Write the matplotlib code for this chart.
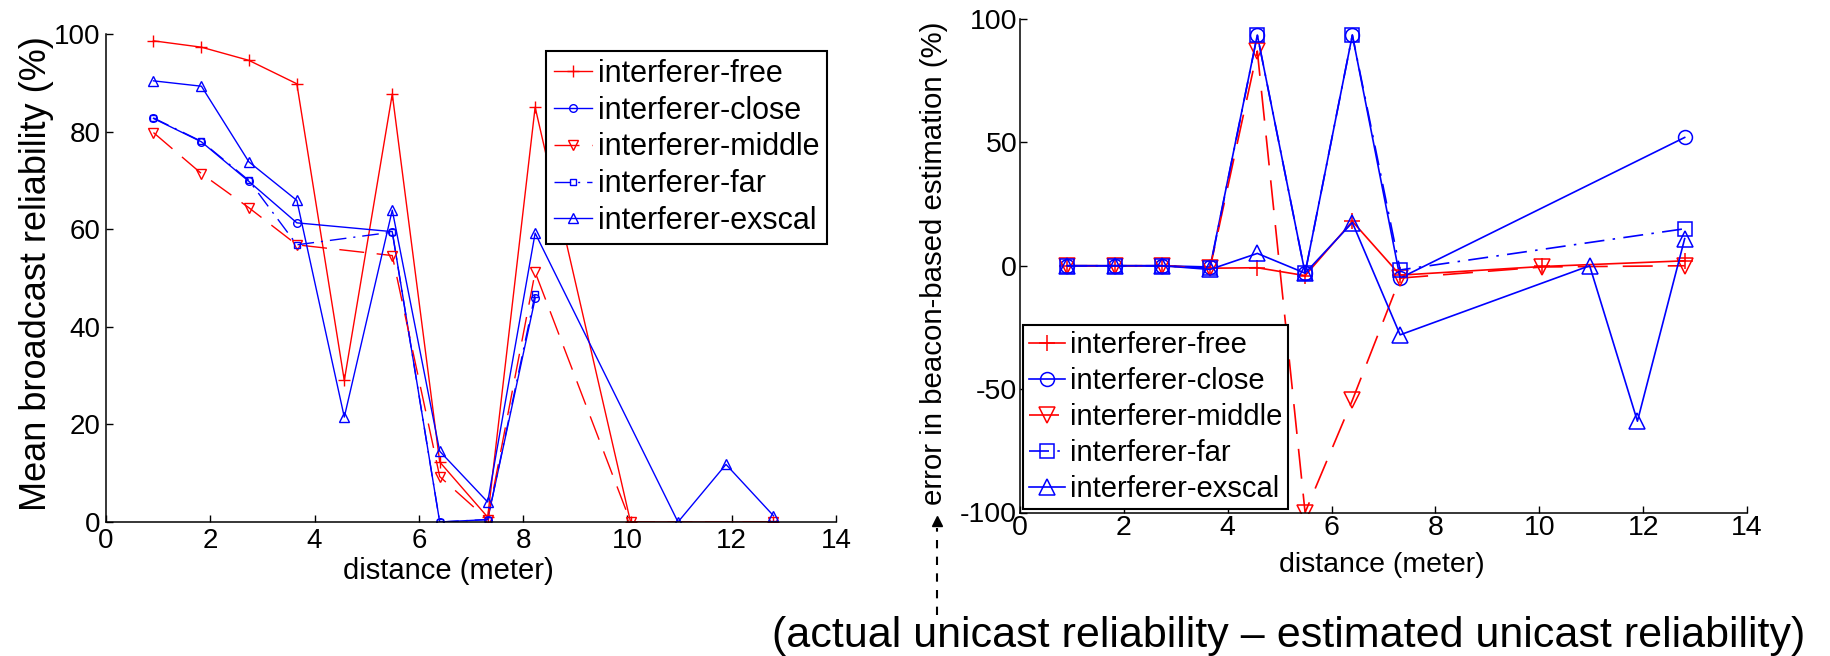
import matplotlib.pyplot as plt
from matplotlib.lines import Line2D

plt.rcParams["axes.unicode_minus"] = False
plt.rcParams["font.family"] = ["Liberation Sans", "DejaVu Sans"]

# left panel: mean broadcast reliability (%)
free_x = [0.91, 1.83, 2.74, 3.66, 4.57, 5.49, 6.40, 7.32, 8.23, 10.06, 12.80]
free_y = [98.6, 97.3, 94.6, 89.8, 29.0, 87.7, 12.3, 1.0, 85.0, 0.0, 0.0]
close_x = [0.91, 1.83, 2.74, 3.66, 5.49, 6.40, 7.32, 8.23]
close_y = [82.7, 77.9, 69.8, 61.3, 59.5, 0.0, 0.5, 45.8]
middle_x = [0.91, 1.83, 2.74, 3.66, 5.49, 6.40, 7.32, 8.23, 10.06, 12.80]
middle_y = [79.8, 71.4, 64.4, 56.8, 54.6, 9.3, 0.5, 51.2, 0.0, 0.0]
far_x = [0.91, 1.83, 2.74, 3.66, 5.49, 6.40, 7.32, 8.23]
far_y = [82.8, 78.0, 70.0, 56.8, 59.4, 0.0, 0.5, 46.7]
exscal_x = [0.91, 1.83, 2.74, 3.66, 4.57, 5.49, 6.40, 7.32, 8.23, 10.97, 11.89, 12.80]
exscal_y = [90.4, 89.3, 73.8, 65.9, 21.5, 63.9, 14.5, 4.1, 59.2, 0.0, 11.8, 1.3]

# right panel: error in beacon-based estimation (%)
err_free_x = [0.91, 1.83, 2.74, 3.66, 4.57, 5.49, 6.40, 7.32, 10.06, 12.80]
err_free_y = [0.0, 0.0, 0.0, -1.0, -0.8, -4.0, 18.0, -3.8, -0.3, 2.0]
err_close_x = [0.91, 1.83, 2.74, 3.66, 4.57, 5.49, 6.40, 7.32, 12.80]
err_close_y = [0.0, 0.0, 0.0, -0.5, 93.5, -3.0, 93.5, -5.0, 52.0]
err_middle_x = [0.91, 1.83, 2.74, 3.66, 4.57, 5.49, 6.40, 7.32, 10.06, 12.80]
err_middle_y = [0.0, 0.0, 0.0, -1.0, 87.0, -100.0, -54.5, -5.0, -0.5, 0.0]
err_far_x = [0.91, 1.83, 2.74, 3.66, 4.57, 5.49, 6.40, 7.32, 12.80]
err_far_y = [0.0, 0.0, 0.0, -1.0, 93.5, -3.0, 93.5, -1.7, 15.0]
err_exscal_x = [0.91, 1.83, 2.74, 3.66, 4.57, 5.49, 6.40, 7.32, 10.97, 11.89, 12.80]
err_exscal_y = [0.0, 0.0, 0.0, -1.5, 5.0, -3.0, 17.5, -28.0, 0.0, -63.0, 11.0]

labels = ["interferer-free", "interferer-close", "interferer-middle",
          "interferer-far", "interferer-exscal"]
colors = ["#ff0000", "#0000ff", "#ff0000", "#0000ff", "#0000ff"]
markers = ["+", "o", "v", "s", "^"]
styles = ["-", "-", (0, (18, 9)), (0, (12, 5, 1.5, 5)), "-"]

W, H = 1831, 656
fig = plt.figure(figsize=(W / 100, H / 100), dpi=100)
ax1 = fig.add_axes([106 / W, (H - 522) / H, 730 / W, 488 / H])
ax2 = fig.add_axes([1020 / W, (H - 512.5) / H, 727 / W, 493.5 / H])

left_data = [(free_x, free_y), (close_x, close_y), (middle_x, middle_y),
             (far_x, far_y), (exscal_x, exscal_y)]
right_data = [(err_free_x, err_free_y), (err_close_x, err_close_y),
              (err_middle_x, err_middle_y), (err_far_x, err_far_y),
              (err_exscal_x, err_exscal_y)]
left_ms = [8, 5.5, 6.5, 5, 6.5]
right_ms = [12, 10, 11, 9.5, 11]

for i in range(5):
    x, y = left_data[i]
    ax1.plot(x, y, color=colors[i], marker=markers[i], linestyle=styles[i],
             lw=1.0, ms=left_ms[i], mfc="none", mew=1.0, label=labels[i])
    x, y = right_data[i]
    ax2.plot(x, y, color=colors[i], marker=markers[i], linestyle=styles[i],
             lw=1.2, ms=right_ms[i], mfc="none", mew=1.1, label=labels[i])

for ax in (ax1, ax2):
    ax.spines["top"].set_visible(False)
    ax.spines["right"].set_visible(False)
    for s in ("left", "bottom"):
        ax.spines[s].set_linewidth(1.1)
    ax.tick_params(direction="in", length=5, width=1.0)
    ax.set_xlim(0, 14)
    ax.set_xticks([0, 2, 4, 6, 8, 10, 12, 14])

# left
ax1.set_ylim(0, 100)
ax1.set_yticks([0, 20, 40, 60, 80, 100])
ax1.tick_params(labelsize=20, pad=4)
ax1.set_xlabel("distance (meter)", fontsize=21)
ax1.set_ylabel("Mean broadcast reliability (%)", fontsize=26)
ax1.xaxis.set_label_coords(0.469, -0.1)
ax1.xaxis.label.set_va("center")
ax1.yaxis.set_label_coords(-0.095, 0.51)
ax1.yaxis.label.set_va("center")
leg1 = ax1.legend(loc="upper left", bbox_to_anchor=(546 / W, 1 - 51 / H),
                  bbox_transform=fig.transFigure, borderaxespad=0, fontsize=22,
                  labelspacing=0.225, handlelength=1.25, handletextpad=0.2,
                  borderpad=0.25, fancybox=False, framealpha=1, numpoints=1)
leg1.get_frame().set_edgecolor("black")
leg1.get_frame().set_linewidth(1.5)

# right
ax2.set_ylim(-100, 100)
ax2.set_yticks([-100, -50, 0, 50, 100])
ax2.tick_params(labelsize=20.5, pad=2)
ax2.set_xlabel("distance (meter)", fontsize=20.5)
ax2.set_ylabel("error in beacon-based estimation (%)", fontsize=21.2)
ax2.xaxis.set_label_coords(0.497, -0.106)
ax2.xaxis.label.set_va("center")
ax2.yaxis.set_label_coords(-0.118, 0.506)
ax2.yaxis.label.set_va("center")
leg2 = ax2.legend(loc="upper left", bbox_to_anchor=(1023 / W, 1 - 325 / H),
                  bbox_transform=fig.transFigure, borderaxespad=0, fontsize=21,
                  labelspacing=0.28, handlelength=1.25, handletextpad=0.15,
                  borderpad=0.2, fancybox=False, framealpha=1, numpoints=1)
leg2.get_frame().set_edgecolor("black")
leg2.get_frame().set_linewidth(1.5)

# dashed arrow and the note below the right panel
fig.add_artist(Line2D([937 / W, 937 / W], [1 - 615 / H, 1 - 528 / H],
                      transform=fig.transFigure, color="black", lw=1.5,
                      linestyle=(0, (4, 4))))
fig.add_artist(Line2D([937 / W], [1 - 521 / H], transform=fig.transFigure,
                      marker="^", color="black", ms=7, linestyle="none"))
fig.text(1289 / W, 1 - 636 / H,
         "(actual unicast reliability \u2013 estimated unicast reliability)",
         ha="center", va="center", fontsize=31)

fig.savefig("out.png", dpi=100)
